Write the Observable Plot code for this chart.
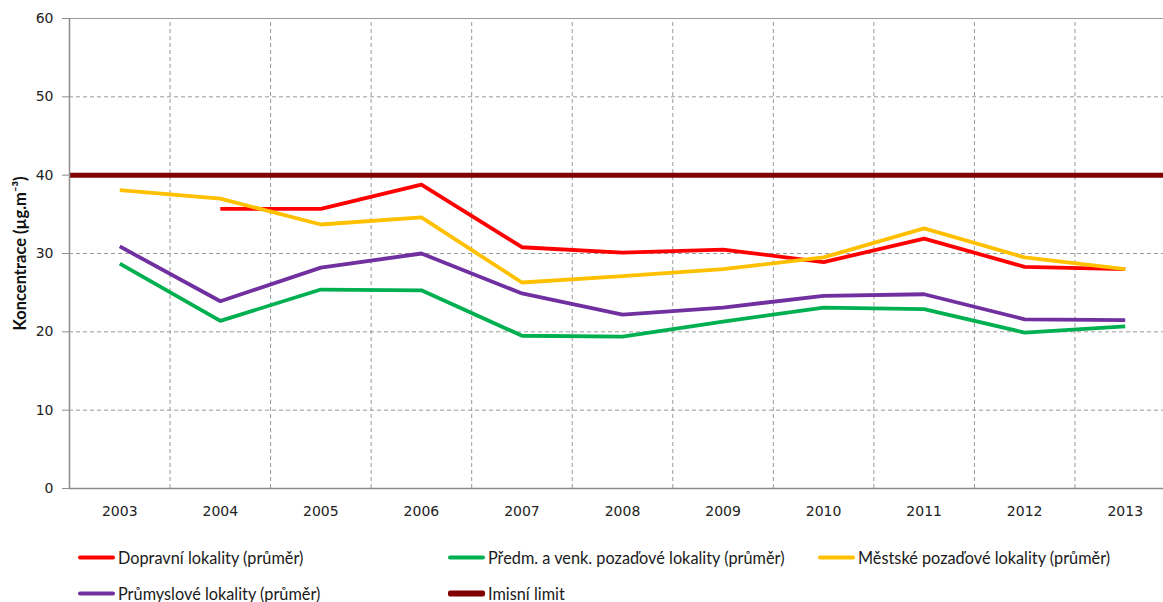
<!DOCTYPE html>
<html><head><meta charset="utf-8">
<script src="https://cdn.jsdelivr.net/npm/d3@7"></script>
<script src="https://cdn.jsdelivr.net/npm/@observablehq/plot@0.6"></script>
<style>
body{margin:0;background:#fff;overflow:hidden;}
#wrap{position:relative;width:1163px;height:602px;overflow:hidden;background:#fff;}
#chart{position:absolute;left:0;top:0;width:1175px;}
#chart svg{max-width:none !important;}
#legend{position:absolute;left:0;top:0;width:1163px;height:602px;font-family:Lato,"Open Sans",sans-serif;font-size:16.3px;color:#1a1a1a;}
.item{position:absolute;display:flex;align-items:center;white-space:nowrap;transform:translateY(-50%);}
.sw{width:37px;margin-right:3px;border-radius:2px;}
</style></head>
<body>
<div id="wrap"><div id="chart"></div><div id="legend"></div></div>
<script>
const years = [2003, 2004, 2005, 2006, 2007, 2008, 2009, 2010, 2011, 2012, 2013];
const dopravni = [null, 35.7, 35.7, 38.8, 30.8, 30.1, 30.5, 28.9, 31.9, 28.3, 28.0];
const predmestske = [28.7, 21.4, 25.4, 25.3, 19.5, 19.4, 21.3, 23.1, 22.9, 19.9, 20.7];
const mestske = [38.1, 37.0, 33.7, 34.6, 26.3, 27.1, 28.0, 29.5, 33.2, 29.5, 28.0];
const prumyslove = [30.9, 23.9, 28.2, 30.0, 24.9, 22.2, 23.1, 24.6, 24.8, 21.6, 21.5];
const imisniLimit = 40;
const yTicks = [0, 10, 20, 30, 40, 50, 60];
const seriesNames = ["Dopravní lokality (průměr)", "Předm. a venk. pozaďové lokality (průměr)", "Městské pozaďové lokality (průměr)", "Průmyslové lokality (průměr)", "Imisní limit"];
const seriesColors = ["#ff0000", "#00b050", "#ffc000", "#7030a0", "#800000"];
const yLabel = "Koncentrace (µg.m⁻³)";

const seriesValues = [dopravni, predmestske, mestske, prumyslove];
const rows = [];
seriesValues.forEach((vals, si) => {
  years.forEach((yr, i) => {
    if (vals[i] != null) rows.push({series: seriesNames[si], year: yr, value: vals[i]});
  });
});
const boundaries = years.slice(1).map(y => y - 0.5);
const xDomain = [years[0] - 0.5, years[years.length - 1] + 0.5];

const plot = Plot.plot({
  width: 1175,
  height: 522,
  marginLeft: 69,
  marginRight: 0,
  marginTop: 18,
  marginBottom: 34,
  style: {fontFamily: "'DejaVu Sans', Verdana, sans-serif", fontSize: "14px", color: "#222", background: "#fff", maxWidth: "none"},
  x: {type: "linear", domain: xDomain},
  y: {domain: [0, 60]},
  color: {domain: seriesNames, range: seriesColors},
  marks: [
    Plot.ruleY(yTicks.filter(t => t > 0 && t < 60), {stroke: "#9a9a9a", strokeWidth: 1, strokeDasharray: "4,3"}),
    Plot.ruleY([60], {stroke: "#9a9a9a", strokeWidth: 1}),
    Plot.ruleX(boundaries, {y1: 0, y2: 60, stroke: "#9a9a9a", strokeWidth: 1, strokeDasharray: "4,3"}),
    Plot.ruleY([imisniLimit], {stroke: "#800000", strokeWidth: 5}),
    Plot.line(rows, {x: "year", y: "value", z: "series", stroke: "series", strokeWidth: 3.8, strokeLinejoin: "miter", strokeLinecap: "butt"}),
    Plot.ruleY([0], {stroke: "#8c8c8c", strokeWidth: 1.5}),
    Plot.ruleX([xDomain[0]], {y1: 0, y2: 60, stroke: "#8c8c8c", strokeWidth: 1.5}),
    Plot.axisY({ticks: yTicks, tickSize: 7, tickPadding: 9, stroke: "#8c8c8c", label: null, fill: "#222"}),
    Plot.axisX({ticks: years, tickSize: 0, tickPadding: 18, tickFormat: d => String(d), label: null, fill: "#222"}),
    Plot.text([yLabel], {frameAnchor: "left", textAnchor: "middle", dx: -49, rotate: -90, fontWeight: "bold", fontSize: 16.5, fontFamily: "Lato, 'Open Sans', sans-serif", fill: "#111"})
  ]
});
document.getElementById("chart").appendChild(plot);

const legendPos = [[78, 557], [448, 557], [818, 557], [78, 593], [448, 593]];
const legend = document.getElementById("legend");
seriesNames.forEach((name, i) => {
  const it = document.createElement("div");
  it.className = "item";
  it.style.left = legendPos[i][0] + "px";
  it.style.top = legendPos[i][1] + "px";
  const sw = document.createElement("span");
  sw.className = "sw";
  sw.style.background = seriesColors[i];
  sw.style.height = (i === 4 ? 6 : 4) + "px";
  const tx = document.createElement("span");
  tx.textContent = name;
  it.appendChild(sw); it.appendChild(tx);
  legend.appendChild(it);
});
</script>
</body></html>
